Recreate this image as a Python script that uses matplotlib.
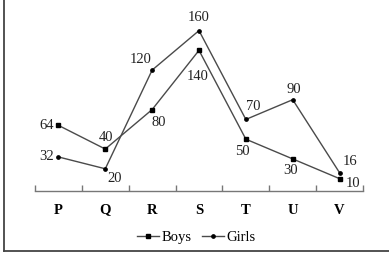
import matplotlib.pyplot as plt
from matplotlib.lines import Line2D

categories = ["P", "Q", "R", "S", "T", "U", "V"]
boys = [64, 40, 80, 140, 50, 30, 10]
girls = [32, 20, 120, 160, 70, 90, 16]

# label offsets in pixels (dx, dy), dy positive = up
boys_off = [(-12, 0), (1, 12), (7, -13), (-1, -26), (-3, -12), (-2, -12), (13, -5)]
girls_off = [(-12, 0), (9, -10), (-11, 11), (0, 13), (7, 13), (1, 10), (10, 11)]

plt.rcParams['font.family'] = ['Liberation Serif', 'DejaVu Serif']
col = "#4a4a4a"

fig = plt.figure(figsize=(3.89, 2.58), dpi=100)
ax = fig.add_axes([35 / 389, 67 / 258, 328 / 389, 191 / 258])
x = range(len(categories))

ax.plot(x, boys, color=col, lw=1.0, marker="s", ms=2.6, mfc="black", mec="black")
ax.plot(x, girls, color=col, lw=1.0, marker="o", ms=2.4, mfc="black", mec="black")

for i in x:
    for vals, offs in ((boys, boys_off), (girls, girls_off)):
        dx, dy = offs[i]
        ax.annotate(str(vals[i]), (i, vals[i]), xytext=(dx * 0.72, dy * 0.72),
                    textcoords="offset points", ha="center", va="center",
                    fontsize=10.5, color="#222222")

ax.set_xlim(-0.5, 6.5)
ax.set_ylim(-2.5, 191)
for s in ["left", "right", "top"]:
    ax.spines[s].set_visible(False)
ax.spines["bottom"].set_color("#777777")
ax.spines["bottom"].set_linewidth(1.0)
ax.set_yticks([])
ax.set_xticks([i - 0.5 for i in range(len(categories) + 1)], minor=False)
ax.set_xticklabels([])
ax.set_xticks(list(x), minor=True)
ax.set_xticklabels(categories, minor=True, fontweight="bold", fontsize=10.5)
ax.tick_params(axis="x", which="major", direction="in", length=4, color="#777777", width=1)
ax.tick_params(axis="x", which="minor", length=0, pad=9)

handles = [
    Line2D([], [], color=col, lw=1, marker="s", ms=2.6, mfc="black", mec="black"),
    Line2D([], [], color=col, lw=1, marker="o", ms=2.4, mfc="black", mec="black"),
]
fig.legend(handles, ["Boys", "Girls"], loc="center", bbox_to_anchor=(0.505, 0.08),
           ncol=2, frameon=False, fontsize=10.5, handlelength=1.5, handletextpad=0.2,
           columnspacing=0.7)

# outer border (left and bottom)
fig.add_artist(Line2D([4 / 389, 4 / 389], [7 / 258, 1], transform=fig.transFigure,
                      color="#444444", lw=1.3))
fig.add_artist(Line2D([4 / 389, 1], [7 / 258, 7 / 258], transform=fig.transFigure,
                      color="#444444", lw=1.3))

fig.savefig("out.png", dpi=100)
